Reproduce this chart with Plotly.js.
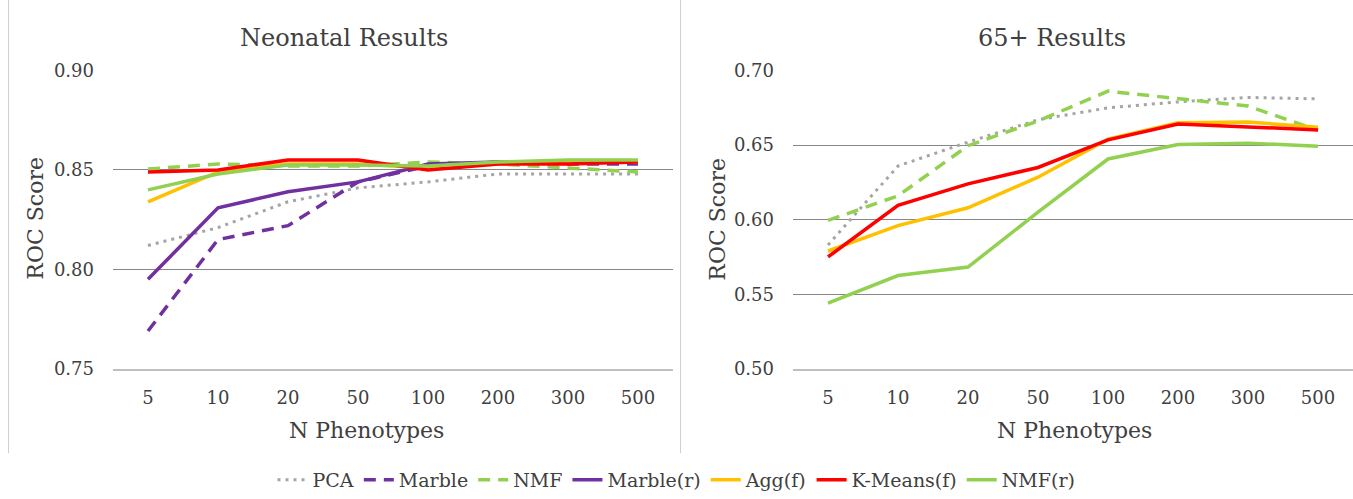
<!DOCTYPE html>
<html><head><meta charset="utf-8">
<script src="https://cdn.plot.ly/plotly-3.0.1.min.js"></script>
<style>html,body{margin:0;padding:0;background:#fff}#c{width:1353px;height:499px}</style>
</head><body><div id="c"></div>
<script>
const categories = ['5','10','20','50','100','200','300','500'];
// Neonatal
const neoPCA      = [0.812,0.821,0.834,0.841,0.844,0.848,0.848,0.848];
const neoMarble   = [0.769,0.815,0.822,0.844,0.852,0.854,0.853,0.853];
const neoNMF      = [0.8505,0.853,0.852,0.852,0.854,0.853,0.851,0.849];
const neoMarbleR  = [0.795,0.831,0.839,0.844,0.853,0.854,0.854,0.854];
const neoAgg      = [0.834,0.849,0.853,0.853,0.851,0.853,0.854,0.854];
const neoKMeans   = [0.849,0.850,0.855,0.855,0.850,0.853,0.853,0.854];
const neoNMFr     = [0.840,0.848,0.8525,0.8525,0.852,0.854,0.855,0.855];
// 65+
const oldPCA      = [0.583,0.636,0.652,0.667,0.675,0.679,0.682,0.681];
const oldNMF      = [0.5995,0.616,0.6496,0.6662,0.6862,0.6811,0.6762,0.660];
const oldAgg      = [0.579,0.596,0.608,0.6285,0.654,0.665,0.6655,0.662];
const oldKMeans   = [0.575,0.6096,0.624,0.635,0.6535,0.6642,0.6622,0.6602];
const oldNMFr     = [0.544,0.5625,0.5682,0.605,0.6407,0.6504,0.6513,0.6493];

const W = 1353, H = 499;
const px = x => x / W, py = y => 1 - y / H;
const FONT = 'DejaVu Serif';
const TXT = '#404040';

const styles = {
  PCA:        {color:'#A5A5A5', dash:'3px,5px', width:3},
  Marble:     {color:'#7030A0', dash:'12px,8px', width:3.5},
  NMF:        {color:'#92D050', dash:'12px,8px', width:3.5},
  MarbleR:    {color:'#7030A0', dash:'solid', width:3.5},
  Agg:        {color:'#FFC000', dash:'solid', width:3.5},
  KMeans:     {color:'#FF0000', dash:'solid', width:3.5},
  NMFr:       {color:'#92D050', dash:'solid', width:3.5}
};
function tr(name, key, y, axis, show) {
  return {type:'scatter', mode:'lines', x:categories, y:y, name:name,
    legendgroup:key, showlegend:show, line:styles[key],
    xaxis: axis==1?'x':'x2', yaxis: axis==1?'y':'y2', hoverinfo:'skip'};
}
const data = [
  tr('PCA','PCA',neoPCA,1,true),
  tr('Marble','Marble',neoMarble,1,true),
  tr('NMF','NMF',neoNMF,1,true),
  tr('Marble(r)','MarbleR',neoMarbleR,1,true),
  tr('Agg(f)','Agg',neoAgg,1,true),
  tr('K-Means(f)','KMeans',neoKMeans,1,true),
  tr('NMF(r)','NMFr',neoNMFr,1,true),
  tr('PCA','PCA',oldPCA,2,false),
  tr('NMF','NMF',oldNMF,2,false),
  tr('Agg(f)','Agg',oldAgg,2,false),
  tr('K-Means(f)','KMeans',oldKMeans,2,false),
  tr('NMF(r)','NMFr',oldNMFr,2,false)
];

const xa = dom => ({domain:dom, type:'category', range:[-0.5,7.5], showgrid:false,
  showline:true, linecolor:'#BFBFBF', linewidth:2, ticks:'', ticklabelstandoff:12,
  tickfont:{family:FONT,size:18,color:TXT}, zeroline:false, fixedrange:true});
const ya = (rng, dtick) => ({domain:[py(371), py(71)], range:rng, dtick:dtick, tickformat:'.2f',
  showgrid:true, gridcolor:'#868686', gridwidth:1, zeroline:false, showline:false, ticks:'',
  ticklabelstandoff:18, tickfont:{family:FONT,size:18,color:TXT}, fixedrange:true});

const ann = (text, x, y, size, angle) => ({text:text, x:px(x), y:py(y), xref:'paper', yref:'paper',
  showarrow:false, xanchor:'center', yanchor:'middle', textangle:angle||0,
  font:{family:FONT, size:size, color:TXT}});

const layout = {
  width:W, height:H, margin:{l:0,r:0,t:0,b:0}, paper_bgcolor:'#fff', plot_bgcolor:'#fff',
  font:{family:FONT},
  xaxis: xa([px(113), px(673)]),
  yaxis: ya([0.75,0.90], 0.05),
  xaxis2: Object.assign(xa([px(793), px(1353)]), {anchor:'y2'}),
  yaxis2: Object.assign(ya([0.50,0.70], 0.05), {anchor:'x2'}),
  showlegend:true,
  legend:{orientation:'h', x:0.5, xanchor:'center', y:py(483), yanchor:'middle',
    font:{family:FONT,size:19,color:TXT}, itemwidth:30, tracegroupgap:0, bgcolor:'rgba(0,0,0,0)'},
  annotations:[
    ann('Neonatal Results', 344, 38, 24),
    ann('65+ Results', 1052, 38, 24),
    ann('N Phenotypes', 366, 433, 22),
    ann('N Phenotypes', 1074, 433, 22),
    ann('ROC Score', 36, 220, 22, -90),
    ann('ROC Score', 718, 221, 22, -90)
  ],
  shapes:[
    {type:'line', xref:'paper', yref:'paper', x0:px(8.5), x1:px(8.5), y0:py(0), y1:py(456), line:{color:'#D0D0D0', width:1}},
    {type:'line', xref:'paper', yref:'paper', x0:px(680.5), x1:px(680.5), y0:py(0), y1:py(456), line:{color:'#D0D0D0', width:1}}
  ]
};
Plotly.newPlot('c', data, layout, {displayModeBar:false, staticPlot:true});
</script></body></html>
